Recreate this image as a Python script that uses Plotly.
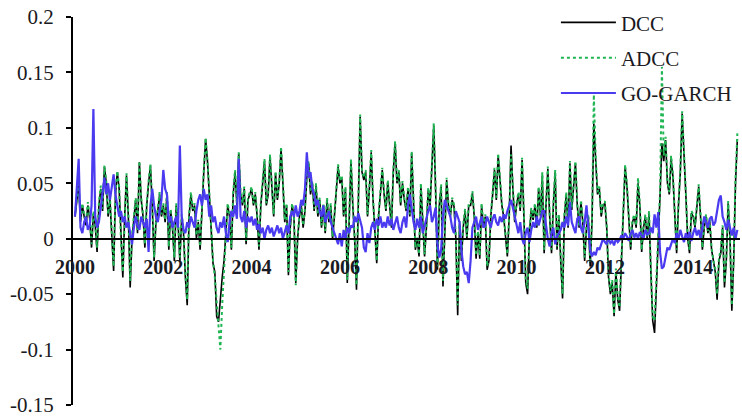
import plotly.graph_objects as go

# Semi-monthly observations, 2000.0 .. 2015.0 (24 per year + final point)
start_year = 2000
per_year = 24

dcc = [
    # 2000
    0.02, 0.035, 0.048, 0.015, 0.03, 0.02, 0.012, 0.03, 0.018, -0.008, 0.022, 0.012,
    -0.012, 0.03, 0.045, 0.025, 0.065, 0.05, 0.02, 0.035, 0.0, -0.029, 0.04, 0.06,
    # 2001
    0.045, -0.005, -0.035, 0.02, 0.057, 0.02, -0.044, 0.0, 0.02, 0.035, 0.005, 0.069,
    0.035, 0.02, -0.008, 0.03, 0.05, 0.066, 0.03, -0.02, 0.015, 0.025, 0.04, 0.02,
    # 2002
    0.03, 0.015, 0.04, -0.01, 0.025, 0.01, -0.02, 0.03, 0.015, -0.02, 0.02, 0.005,
    -0.035, -0.06, 0.02, 0.04, 0.025, 0.03, 0.0, 0.015, -0.01, 0.03, 0.06, 0.09,
    # 2003
    0.07, 0.04, 0.01, -0.022, -0.03, -0.07, -0.075, -0.05, -0.035, -0.02, 0.01, 0.03,
    0.02, -0.01, 0.04, 0.06, 0.03, 0.077, 0.04, 0.03, 0.045, -0.005, 0.035, 0.04,
    # 2004
    0.045, 0.03, 0.04, 0.02, -0.01, 0.03, 0.05, 0.07, 0.03, 0.04, 0.074, 0.045,
    0.02, 0.059, 0.035, 0.05, 0.081, 0.05, 0.015, 0.03, -0.033, 0.01, 0.03, 0.02,
    # 2005
    -0.04, 0.0, 0.02, 0.03, 0.01, 0.025, 0.055, 0.068, 0.04, 0.05, 0.025, 0.048,
    0.02, 0.035, 0.01, 0.03, 0.005, 0.035, 0.015, 0.03, 0.0, 0.02, 0.04, 0.065,
    # 2006
    0.05, 0.055, 0.02, 0.045, -0.04, 0.02, 0.07, 0.03, 0.0, -0.046, 0.04, 0.11,
    0.06, 0.053, 0.06, 0.02, 0.045, 0.078, 0.035, 0.01, -0.022, 0.02, 0.04, 0.062,
    # 2007
    0.04, 0.025, 0.051, 0.03, 0.01, 0.06, 0.087, 0.05, 0.06, 0.03, 0.05, 0.035,
    0.025, 0.045, 0.02, 0.077, 0.04, -0.01, 0.0, -0.016, 0.048, 0.02, -0.016, 0.01,
    # 2008
    0.044, 0.03, 0.06, 0.102, 0.044, -0.028, 0.03, 0.047, -0.043, 0.01, 0.053, 0.03,
    0.02, 0.035, 0.029, 0.0, -0.069, 0.014, -0.02, 0.01, 0.025, 0.0, 0.03, 0.03,
    # 2009
    0.041, 0.02, -0.018, 0.005, -0.018, 0.03, 0.01, 0.02, -0.028, -0.02, 0.02, 0.04,
    0.062, 0.035, 0.075, 0.053, 0.03, 0.02, 0.0, -0.016, 0.02, 0.084, 0.045, 0.015,
    # 2010
    0.03, 0.04, 0.025, 0.071, 0.02, -0.04, -0.05, 0.005, 0.026, 0.017, 0.03, 0.01,
    0.045, 0.02, 0.057, -0.013, 0.03, 0.063, 0.02, -0.013, 0.03, 0.06, -0.01, 0.02,
    # 2011
    -0.02, -0.054, 0.02, 0.04, 0.01, 0.068, 0.026, 0.045, 0.068, 0.03, 0.01, 0.033,
    0.015, -0.02, 0.01, 0.02, -0.025, 0.015, 0.104, 0.071, 0.04, 0.045, 0.02, 0.03,
    # 2012
    0.032, 0.01, -0.035, -0.05, -0.04, -0.07, -0.03, -0.055, -0.065, -0.02, 0.03, 0.065,
    0.047, 0.02, -0.01, 0.015, 0.02, 0.01, 0.05, 0.03, -0.012, 0.01, 0.02, 0.0,
    # 2013
    0.023, -0.03, -0.074, -0.085, -0.037, 0.01, 0.04, 0.086, 0.07, 0.089, 0.05, 0.04,
    0.072, 0.056, 0.02, -0.013, 0.03, 0.06, 0.113, 0.068, 0.04, 0.0, -0.013, 0.023,
    # 2014
    0.02, 0.01, 0.03, 0.047, 0.02, -0.01, 0.01, 0.02, 0.005, 0.015, -0.01, -0.022,
    -0.03, -0.055, -0.02, -0.013, 0.01, -0.044, -0.02, 0.032, 0.0, -0.065, -0.02, 0.05,
    # 2015.0
    0.09,
]

adcc = [
    # 2000
    0.022, 0.038, 0.05, 0.018, 0.032, 0.022, 0.015, 0.033, 0.02, -0.005, 0.025, 0.014,
    -0.008, 0.033, 0.048, 0.027, 0.066, 0.052, 0.022, 0.037, 0.003, -0.025, 0.042, 0.061,
    # 2001
    0.047, -0.002, -0.03, 0.022, 0.059, 0.022, -0.038, 0.003, 0.022, 0.037, 0.008, 0.07,
    0.037, 0.022, -0.005, 0.032, 0.052, 0.067, 0.032, -0.017, 0.017, 0.027, 0.042, 0.022,
    # 2002
    0.032, 0.017, 0.042, -0.007, 0.027, 0.012, -0.017, 0.032, 0.017, -0.017, 0.022, 0.008,
    -0.03, -0.055, 0.022, 0.042, 0.027, 0.032, 0.003, 0.017, -0.007, 0.032, 0.062, 0.091,
    # 2003
    0.071, 0.042, 0.012, -0.02, -0.035, -0.06, -0.08, -0.1, -0.06, -0.03, 0.012, 0.032,
    0.022, -0.008, 0.042, 0.062, 0.032, 0.078, 0.042, 0.032, 0.047, -0.002, 0.037, 0.042,
    # 2004
    0.047, 0.032, 0.042, 0.022, -0.007, 0.032, 0.052, 0.072, 0.032, 0.042, 0.076, 0.047,
    0.022, 0.061, 0.037, 0.052, 0.083, 0.052, 0.017, 0.032, -0.03, 0.012, 0.032, 0.022,
    # 2005
    -0.042, 0.002, 0.022, 0.032, 0.012, 0.027, 0.057, 0.07, 0.042, 0.052, 0.027, 0.05,
    0.022, 0.037, 0.012, 0.032, 0.007, 0.037, 0.017, 0.032, 0.002, 0.022, 0.042, 0.067,
    # 2006
    0.052, 0.057, 0.022, 0.047, -0.037, 0.022, 0.072, 0.032, 0.002, -0.042, 0.042, 0.112,
    0.062, 0.055, 0.062, 0.022, 0.047, 0.08, 0.037, 0.012, -0.02, 0.022, 0.042, 0.064,
    # 2007
    0.042, 0.027, 0.053, 0.032, 0.012, 0.062, 0.088, 0.052, 0.062, 0.032, 0.052, 0.037,
    0.027, 0.047, 0.022, 0.079, 0.042, -0.008, 0.002, -0.014, 0.05, 0.022, -0.014, 0.012,
    # 2008
    0.046, 0.032, 0.062, 0.104, 0.046, -0.025, 0.032, 0.049, -0.038, 0.012, 0.055, 0.032,
    0.022, 0.037, 0.031, 0.002, -0.06, 0.016, -0.017, 0.012, 0.027, 0.002, 0.032, 0.032,
    # 2009
    0.043, 0.022, -0.015, 0.007, -0.015, 0.032, 0.012, 0.022, -0.025, -0.017, 0.022, 0.042,
    0.064, 0.037, 0.077, 0.055, 0.032, 0.022, 0.002, -0.014, 0.022, 0.076, 0.047, 0.017,
    # 2010
    0.032, 0.042, 0.027, 0.073, 0.022, -0.037, -0.045, 0.007, 0.028, 0.019, 0.032, 0.012,
    0.047, 0.022, 0.06, -0.01, 0.032, 0.065, 0.022, -0.01, 0.032, 0.062, -0.007, 0.022,
    # 2011
    -0.017, -0.05, 0.022, 0.042, 0.012, 0.07, 0.028, 0.047, 0.07, 0.032, 0.012, 0.035,
    0.017, -0.017, 0.012, 0.022, -0.022, 0.017, 0.13, 0.075, 0.042, 0.047, 0.022, 0.032,
    # 2012
    0.034, 0.012, -0.032, -0.047, -0.037, -0.068, -0.027, -0.052, -0.062, -0.017, 0.032, 0.067,
    0.049, 0.022, -0.007, 0.017, 0.022, 0.012, 0.055, 0.032, -0.01, 0.012, 0.022, 0.002,
    # 2013
    0.025, -0.027, -0.07, -0.074, -0.033, 0.012, 0.042, 0.155, 0.075, 0.092, 0.052, 0.042,
    0.075, 0.058, 0.022, -0.01, 0.032, 0.062, 0.115, 0.07, 0.042, 0.002, -0.01, 0.025,
    # 2014
    0.022, 0.012, 0.032, 0.049, 0.022, -0.008, 0.012, 0.022, 0.007, 0.017, -0.008, -0.02,
    -0.027, -0.05, -0.017, -0.01, 0.012, -0.04, -0.017, 0.034, 0.002, -0.06, -0.017, 0.055,
    # 2015.0
    0.095,
]

go_garch = [
    # 2000
    0.02, 0.045, 0.072, 0.01, 0.005, 0.015, 0.02, 0.008, 0.012, 0.03, 0.117, 0.02,
    0.01, 0.015, 0.03, 0.045, 0.055, 0.04, 0.05, 0.035, 0.045, 0.058, 0.04, 0.03,
    # 2001
    0.02, 0.025, 0.015, 0.02, 0.01, 0.015, 0.005, -0.005, 0.01, 0.02, 0.012, 0.008,
    0.02, 0.015, 0.01, 0.018, -0.012, 0.03, 0.045, 0.03, 0.02, 0.015, 0.025, 0.035,
    # 2002
    0.062, 0.045, 0.04, 0.015, 0.02, 0.01, 0.015, 0.02, 0.01, 0.084, 0.02, 0.008,
    0.005, 0.015, 0.01, 0.02, 0.015, 0.01, 0.025, 0.035, 0.04, 0.03, 0.045, 0.035,
    # 2003
    0.04, 0.02, 0.03, 0.015, 0.02, 0.01, 0.005, 0.015, 0.01, 0.02, 0.005, -0.003,
    0.015, 0.025, 0.02, 0.03, 0.018, 0.072, 0.02, 0.015, 0.025, 0.01, 0.02, 0.015,
    # 2004
    0.02, 0.012, 0.018, 0.008, 0.013, 0.005, 0.01, 0.0, 0.008, 0.012, 0.005, 0.01,
    0.002, 0.008, 0.012, 0.005, 0.01, 0.0, 0.006, 0.012, 0.005, 0.02, 0.025, 0.02,
    # 2005
    0.03, 0.02, 0.025, 0.035, 0.03, 0.045, 0.078, 0.055, 0.06, 0.045, 0.04, 0.03,
    0.035, 0.025, 0.02, 0.03, 0.015, 0.02, 0.025, 0.015, 0.01, 0.005, 0.0, -0.005,
    # 2006
    0.005, -0.007, 0.008, 0.0, 0.01, 0.005, 0.012, 0.01, 0.02, 0.015, 0.023, 0.015,
    0.01, -0.008, -0.012, 0.005, -0.004, 0.01, 0.015, 0.008, 0.018, 0.012, 0.02, 0.01,
    # 2007
    0.015, 0.01, 0.02, 0.012, 0.018, 0.008, 0.015, 0.02, 0.01, 0.005, 0.015, 0.02,
    0.01, 0.03, 0.04, 0.025, 0.015, 0.008, 0.018, 0.01, 0.02, 0.005, 0.012, 0.02,
    # 2008
    0.025, 0.03, 0.015, 0.02, 0.028, -0.005, -0.017, -0.01, 0.02, 0.035, 0.03, 0.025,
    0.02, 0.01, 0.005, 0.025, 0.02, 0.015, -0.01, -0.025, -0.032, -0.03, -0.04, -0.02,
    # 2009
    0.01, 0.015, 0.02, 0.008, 0.015, 0.02, 0.01, 0.012, 0.02, 0.015, 0.01, 0.018,
    0.022, 0.015, 0.012, 0.02, 0.015, 0.022, 0.018, 0.025, 0.03, 0.035, 0.028, 0.02,
    # 2010
    0.01, 0.005, 0.015, 0.0, -0.005, 0.005, 0.01, -0.003, 0.008, 0.015, 0.01, 0.02,
    0.012, 0.018, 0.025, 0.025, 0.01, 0.0, -0.007, 0.005, 0.01, -0.005, 0.002, 0.005,
    # 2011
    0.008, 0.015, 0.01, 0.02, 0.012, 0.033, 0.015, 0.01, 0.005, 0.018, 0.02, 0.01,
    0.005, 0.015, 0.03, 0.01, -0.01, -0.016, -0.012, -0.015, -0.008, -0.01, -0.005, 0.0,
    # 2012
    -0.003, -0.005, 0.0, -0.004, -0.002, -0.006, 0.0, -0.003, -0.001, 0.003, 0.0, 0.005,
    0.002, -0.002, 0.004, 0.008, 0.001, 0.005, 0.0, 0.006, 0.003, 0.0, 0.008, 0.004,
    # 2013
    0.005, 0.01, 0.005, 0.022, 0.01, 0.024, -0.012, -0.027, -0.025, -0.015, -0.008, -0.01,
    -0.005, 0.0, -0.004, 0.005, 0.0, 0.008, 0.002, -0.003, 0.005, 0.0, 0.006, -0.002,
    # 2014
    0.005, 0.01, 0.003, 0.008, 0.0, 0.012, 0.02, 0.015, 0.01, 0.018, 0.02, 0.012,
    0.015, 0.025, 0.035, 0.039, 0.02, 0.015, 0.008, 0.017, 0.01, 0.003, 0.01, 0.0,
    # 2015.0
    0.008,
]

x_tick_years = [2000, 2002, 2004, 2006, 2008, 2010, 2012, 2014]
y_tick_vals = [-0.15, -0.1, -0.05, 0, 0.05, 0.1, 0.15, 0.2]
y_tick_text = ["-0.15", "-0.1", "-0.05", "0", "0.05", "0.1", "0.15", "0.2"]

n = len(dcc)
t = [start_year + i / per_year for i in range(n)]

FONT = "Liberation Serif, Times New Roman, serif"
TXT = "#1a1a22"

fig = go.Figure()
fig.add_trace(go.Scatter(x=t, y=dcc, mode="lines", name="DCC", legendgroup="a",
                         line=dict(color="#000000", width=1.6)))
fig.add_trace(go.Scatter(x=t, y=adcc, mode="lines", name="ADCC", legendgroup="b",
                         line=dict(color="#1fb552", width=2, dash="dot")))
fig.add_trace(go.Scatter(x=t, y=go_garch, mode="lines", name="GO-GARCH", legendgroup="c",
                         line=dict(color="#4a3af0", width=2.2)))

fig.update_layout(
    width=742, height=417,
    margin=dict(l=73, r=2, t=17, b=12),
    paper_bgcolor="white", plot_bgcolor="white",
    font=dict(family=FONT, color=TXT, size=21),
    showlegend=True,
    legend=dict(x=0.724, y=1.038, xanchor="left", yanchor="top",
                bgcolor="rgba(0,0,0,0)", borderwidth=0,
                font=dict(family=FONT, size=21, color=TXT),
                tracegroupgap=5, itemwidth=55),
    xaxis=dict(range=[1999.955, 2015.06], tickmode="array",
               tickvals=x_tick_years,
               ticktext=["<b>%d</b>" % y for y in x_tick_years],
               showgrid=False, zeroline=False,
               showline=True, linecolor="black", linewidth=2,
               ticks="", anchor="free", position=0.15 / 0.35,
               tickfont=dict(family=FONT, size=20, color=TXT),
               ticklabelstandoff=10, automargin=False,
               ticklabeloverflow="allow"),
    yaxis=dict(range=[-0.15, 0.2], tickmode="array",
               tickvals=y_tick_vals, ticktext=y_tick_text,
               showgrid=False, zeroline=False,
               showline=True, linecolor="black", linewidth=2,
               ticks="outside", ticklen=5, tickwidth=2, tickcolor="black",
               tickfont=dict(family=FONT, size=21, color=TXT),
               ticklabelstandoff=8, automargin=False,
               ticklabeloverflow="allow"),
)

fig.write_html("out.html", config={"displayModeBar": False},
               post_script="document.body.style.margin='0';")
